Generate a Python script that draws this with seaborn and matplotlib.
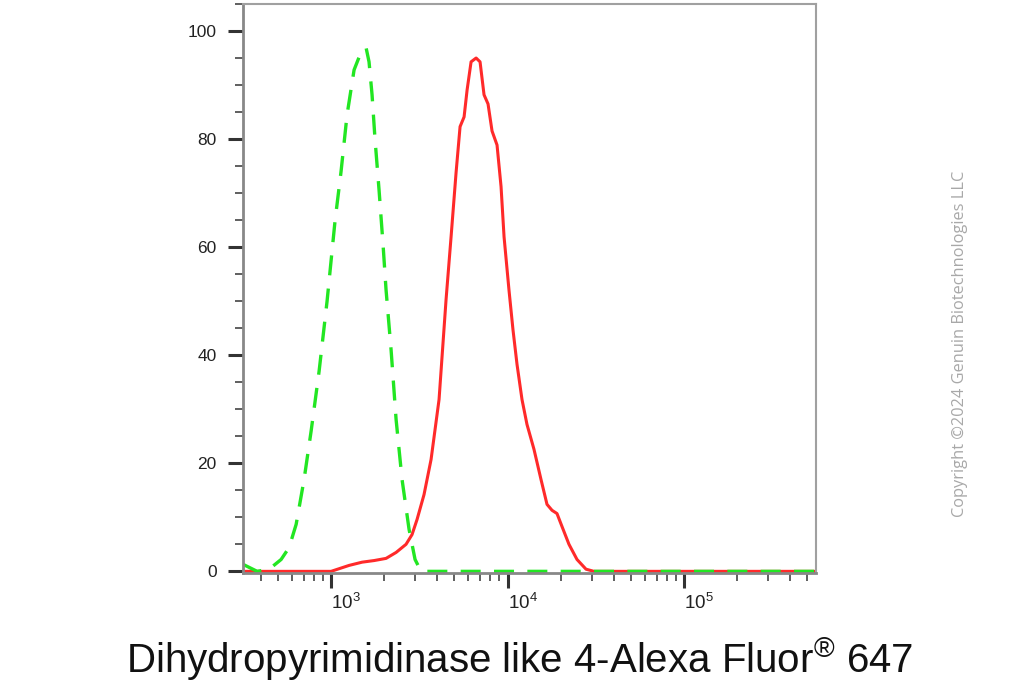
import numpy as np
import pandas as pd
import matplotlib
matplotlib.use("Agg")
import matplotlib.pyplot as plt
import matplotlib.ticker as mticker
import seaborn as sns

# ---- data ----
control_x = [317, 381, 446, 521, 578, 634, 703, 771, 855, 949, 1054, 1139, 1232, 1350,
             1479, 1579, 1641, 1707, 1775, 1870, 1971, 2049, 2188, 2336, 2525, 2766,
             2992, 3236, 10000, 100000, 560000]
control_y = [1.3, 0.0, 0.4, 2.2, 4.4, 8.7, 17.0, 26.0, 37.0, 50.0, 65.0, 74.0, 84.5, 92.8,
             96.1, 96.9, 94.3, 88.2, 79.9, 70.6, 60.4, 52.1, 41.0, 28.1, 17.0, 7.8,
             2.2, 0.0, 0.0, 0.0, 0.0]

sample_x = [317, 1000, 1265, 1499, 1754, 2049, 2336, 2659, 2876, 3071, 3363, 3687, 4092,
            4484, 4787, 5110, 5383, 5673, 5901, 6215, 6637, 6987, 7360, 7755, 8170,
            8721, 9190, 9558, 10190, 10740, 11320, 12080, 12890, 14120, 15480, 16740,
            17870, 19070, 20360, 22300, 24760, 27850, 30920, 100000, 560000]
sample_y = [0.0, 0.0, 1.1, 1.7, 2.0, 2.4, 3.5, 5.0, 6.8, 9.6, 14.2, 20.7, 31.8,
            50.3, 61.9, 73.8, 82.3, 84.1, 89.1, 94.3, 95.0, 94.3, 88.2, 86.5, 81.5,
            78.9, 71.2, 61.9, 52.1, 44.7, 38.3, 31.8, 27.2, 22.6, 17.0, 12.4,
            11.3, 10.7, 8.3, 5.0, 2.2, 0.4, 0.0, 0.0, 0.0]

y_ticks = [0, 20, 40, 60, 80, 100]
x_ticks = [1e3, 1e4, 1e5]
x_tick_labels = [r"$10^{3}$", r"$10^{4}$", r"$10^{5}$"]
x_label = "Dihydropyrimidinase like 4-Alexa Fluor$^{®}$ 647"
copyright_text = "Copyright ©2024 Genuin Biotechnologies LLC"

# ---- style ----
sns.set_style("white")
plt.rcParams["font.family"] = ["Liberation Sans", "DejaVu Sans"]
plt.rcParams["mathtext.fontset"] = "custom"
plt.rcParams["mathtext.rm"] = "Liberation Sans"
plt.rcParams["mathtext.it"] = "Liberation Sans"
plt.rcParams["mathtext.bf"] = "Liberation Sans"

fig = plt.figure(figsize=(10.11, 6.9), dpi=100)
ax = fig.add_axes([0.2404, 0.1696, 0.8071 - 0.2404, 0.9942 - 0.1696])

df_s = pd.DataFrame({"x": sample_x, "y": sample_y})
df_c = pd.DataFrame({"x": control_x, "y": control_y})

sns.lineplot(data=df_s, x="x", y="y", ax=ax, color="#ff2a2a", lw=2.2,
             estimator=None, sort=True)
sns.lineplot(data=df_c, x="x", y="y", ax=ax, color="#22e622", lw=2.4,
             estimator=None, sort=True, linestyle=(0, (6, 4)))

ax.set_xscale("log")
ax.set_xlim(317, 560000)
ax.set_ylim(-0.3, 105)

ax.set_xticks(x_ticks)
ax.set_xticklabels(x_tick_labels)
ax.xaxis.set_minor_locator(mticker.LogLocator(base=10, subs=np.arange(2, 10)))
ax.xaxis.set_minor_formatter(mticker.NullFormatter())
ax.set_yticks(y_ticks)
ax.yaxis.set_minor_locator(mticker.MultipleLocator(5))

ax.tick_params(axis="both", which="major", direction="out", length=11, width=2.2,
               color="#333333", labelcolor="#222222", labelsize=12.5)
ax.tick_params(axis="y", which="major", pad=8)
ax.tick_params(axis="x", which="major", pad=3, labelsize=13.5)
ax.tick_params(axis="both", which="minor", direction="out", length=5.5, width=1.2,
               color="#444444")
ax.tick_params(bottom=True, left=True, top=False, right=False, which="both")
for lbl in ax.get_xticklabels():
    lbl.set_horizontalalignment("left")

ax.set_xlabel("")
ax.set_ylabel("")
for side in ["top", "right"]:
    ax.spines[side].set_color("#a0a0a0")
    ax.spines[side].set_linewidth(1.5)
for side in ["left", "bottom"]:
    ax.spines[side].set_color("#888888")
    ax.spines[side].set_linewidth(2.0)

fig.text(520 / 1011, 17 / 690, x_label, ha="center", va="baseline", fontsize=29,
         color="#111111")
fig.text(960 / 1011, 1 - 344 / 690, copyright_text, rotation=90, ha="center",
         va="center", fontsize=11.8, color="#a8a8a8", family=["Open Sans", "DejaVu Sans"])

fig.savefig("out.png", dpi=100)
